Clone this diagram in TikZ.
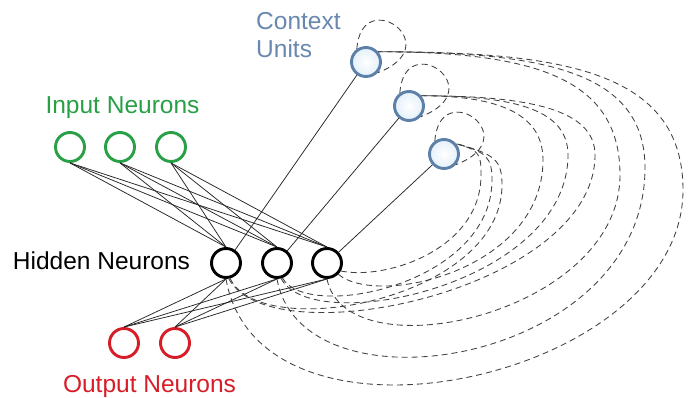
\documentclass[tikz,border=0pt]{standalone}
\usepackage{fontspec}
\setmainfont{Liberation Sans}
\definecolor{ingreen}{RGB}{40,160,70}
\definecolor{outred}{RGB}{215,30,40}
\definecolor{ctxblue}{RGB}{92,128,168}
\definecolor{ctxtext}{RGB}{105,136,175}
\definecolor{ctxfill}{RGB}{228,240,250}
\begin{document}
\begin{tikzpicture}[x=1pt,y=1pt,
  neuron/.style={circle,minimum size=29pt,inner sep=0pt,line width=2.9pt},
  innode/.style={neuron,draw=ingreen,fill=white},
  hidnode/.style={neuron,draw=black,fill=white},
  outnode/.style={neuron,draw=outred,fill=white},
  ctxnode/.style={neuron,draw=ctxblue,inner color=white,outer color=ctxfill},
  conn/.style={line width=0.75pt,black!85},
  rec/.style={line width=0.85pt,black!75,dash pattern=on 6pt off 4pt},
  lbl/.style={font=\fontsize{24.5}{27}\selectfont,inner sep=0pt,anchor=base}]
\useasboundingbox (0,0) rectangle (689,-397);
\fill[white] (0,0) rectangle (689,-397);
% nodes
\node[innode] (I1) at (70,-147) {};
\node[innode] (I2) at (120,-147) {};
\node[innode] (I3) at (171,-147) {};
\node[hidnode] (H1) at (226,-263) {};
\node[hidnode] (H2) at (277,-263) {};
\node[hidnode] (H3) at (327,-263) {};
\node[outnode] (O1) at (124,-343) {};
\node[outnode] (O2) at (175,-343) {};
\node[ctxnode] (C1) at (366,-62) {};
\node[ctxnode] (C2) at (409,-106) {};
\node[ctxnode] (C3) at (444,-154) {};
% labels
\node[lbl,text=ingreen] (lin) at (122.5,-113) {Input Neurons};
\node[lbl,text=black] (lhid) at (101.5,-269.5) {Hidden Neurons};
\node[lbl,text=outred] (lout) at (149.5,-392) {Output Neurons};
\node[lbl,text=ctxtext,anchor=base west] (lctxa) at (256,-29) {Context};
\node[lbl,text=ctxtext,anchor=base west] (lctxb) at (256,-57) {Units};
% solid connections
\foreach \i in {1,2,3}{\foreach \j in {1,2,3}{\draw[conn] (I\i.south) -- (H\j.north);}}
\foreach \i in {1,2}{\foreach \j in {1,2,3}{\draw[conn] (O\i.north) -- (H\j.south);}}
\foreach \i in {1,2,3}{\draw[conn] (C\i) -- (H\i);}
% turning points of the recurrent links
\coordinate (R11) at (683,-190);
\coordinate (R21) at (645,-168);
\coordinate (R31) at (620,-175);
\coordinate (R12) at (595,-155);
\coordinate (R22) at (568,-155);
\coordinate (R32) at (543,-160);
\coordinate (R13) at (502,-185);
\coordinate (R23) at (492,-180);
\coordinate (R33) at (481,-175);
% recurrent dashed links hidden -> context
\draw[rec] (H1.-90) .. controls +(-80:194) and +(-90:190) .. (R11) .. controls +(90:120) and +(0:182) .. (C1.40);
\draw[rec] (H2.-90) .. controls +(-80:142) and +(-90:197) .. (R21) .. controls +(90:95) and +(0:170) .. (C1.40);
\draw[rec] (H3.-90) .. controls +(-79:97) and +(-90:140) .. (R31) .. controls +(90:95) and +(0:160) .. (C1.40);
\draw[rec] (H1.-80) .. controls +(-62:90) and +(-90:135) .. (R12) .. controls +(90:45) and +(0:110) .. (C2.40);
\draw[rec] (H2.-75) .. controls +(-63:67) and +(-90:130) .. (R22) .. controls +(90:45) and +(0:95) .. (C2.40);
\draw[rec] (H3.-45) .. controls +(-40:52) and +(-90:110) .. (R32) .. controls +(90:45) and +(0:80) .. (C2.40);
\draw[rec] (H1.-75) .. controls +(-65:72) and +(-90:115) .. (R13) .. controls +(90:25) and +(-15:40) .. (C3.40);
\draw[rec] (H2.-70) .. controls +(-61:50) and +(-90:105) .. (R23) .. controls +(90:22) and +(-15:32) .. (C3.40);
\draw[rec] (H3.-30) .. controls +(-12:45) and +(-90:75) .. (R33) .. controls +(90:20) and +(-15:25) .. (C3.40);
% self loops of context units
\foreach \i in {1,2,3}{\draw[rec] (C\i.125) .. controls +(86:65) and +(21:77) .. (C\i.-42);}
\end{tikzpicture}
\end{document}
